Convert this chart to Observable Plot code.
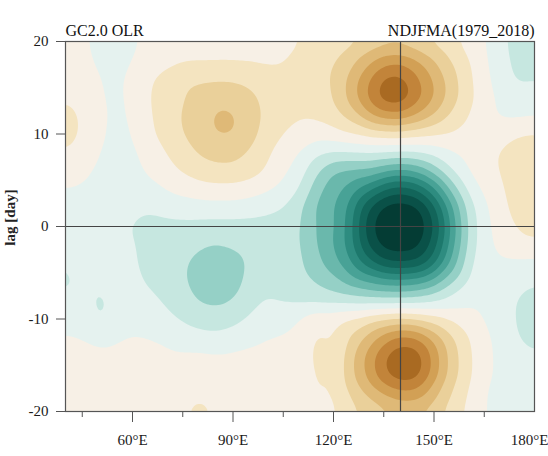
<!DOCTYPE html>
<html><head><meta charset="utf-8">
<script src="https://cdn.jsdelivr.net/npm/d3@7"></script>
<script src="https://cdn.jsdelivr.net/npm/@observablehq/plot@0.6"></script>
<style>html,body{margin:0;padding:0;background:#fff;} svg{display:block;}</style>
</head><body><div id="chart"></div>
<script>
// Longitudes (°E) of the sampled columns and lags (days) of the sampled rows
const lons = [40,45,50,55,60,65,70,75,80,85,90,95,100,105,110,115,120,125,130,135,140,145,150,155,160,165,170,175,180];
const lags = [20,18,16,14,12,10,8,6,4,2,0,-2,-4,-6,-8,-10,-12,-14,-16,-18,-20];

// OLR lag-regression values (W m-2), one row per lag
const lag20  = [0.3,0.2,-0.3,-0.4,-0.2,0.3,0.5,0.6,0.6,0.6,0.6,0.6,0.6,0.7,1.0,1.2,1.3,1.6,2.0,2.4,2.5,2.2,1.7,1.2,0.7,0.1,-0.8,-1.4,-1.3];
const lag18  = [0.4,0.3,-0.2,-0.3,0.0,0.4,0.7,0.9,0.9,0.9,0.9,0.9,0.8,0.9,1.3,1.5,1.9,2.6,3.6,4.5,4.7,4.0,3.0,2.0,1.1,0.2,-0.7,-1.3,-1.2];
const lag16  = [0.6,0.5,0.0,-0.2,0.2,0.9,1.3,1.7,1.8,1.9,1.9,1.7,1.5,1.3,1.4,1.6,2.1,3.3,4.8,6.3,6.4,5.2,3.9,2.5,1.3,0.3,-0.5,-1.2,-1.1];
const lag14  = [0.9,0.7,0.1,-0.2,0.2,1.0,1.5,1.9,2.5,2.7,2.6,2.3,1.7,1.3,1.3,1.4,2.0,3.4,5.1,6.7,6.9,5.5,4.1,2.6,1.4,0.4,-0.2,-0.6,-0.5];
const lag12  = [1.4,0.9,0.2,-0.2,0.1,0.9,1.5,2.1,2.6,3.2,3.2,2.5,1.8,1.3,1.1,1.2,1.5,2.4,3.7,4.6,4.8,4.0,3.0,1.9,1.0,0.3,-0.1,-0.2,-0.1];
const lag10  = [1.4,0.9,0.2,-0.3,0.0,0.8,1.4,2.0,2.5,3.1,3.1,2.4,1.6,1.0,0.6,0.4,0.6,1.0,1.3,1.5,1.6,1.4,1.2,1.0,0.7,0.5,0.6,1.0,1.1];
const lag8   = [1.0,0.6,0.0,-0.4,-0.2,0.4,1.0,1.6,2.1,2.3,2.3,1.9,1.2,0.5,0.0,-0.9,-1.1,-1.0,-0.9,-1.0,-1.1,-1.0,-0.6,0.0,0.3,0.7,1.1,1.4,1.5];
const lag6   = [0.4,0.2,-0.2,-0.4,-0.3,0.1,0.6,1.1,1.6,1.8,1.8,1.5,0.9,0.2,-0.5,-1.8,-3.1,-3.2,-3.2,-3.9,-4.3,-3.8,-2.5,-1.0,0.0,0.6,1.1,1.5,1.7];
const lag4   = [0.0,-0.1,-0.3,-0.4,-0.4,-0.3,0.0,0.3,0.5,0.6,0.6,0.4,0.1,-0.3,-1.0,-2.6,-3.7,-4.4,-5.6,-7.1,-7.7,-7.1,-5.3,-2.7,-0.8,0.2,0.9,1.5,2.2];
const lag2   = [-0.4,-0.5,-0.6,-0.7,-0.8,-0.9,-0.6,-0.5,-0.4,-0.4,-0.4,-0.5,-0.7,-1.0,-1.8,-3.2,-3.9,-5.3,-7.9,-9.4,-9.7,-9.4,-7.5,-4.4,-1.7,-0.2,0.7,1.4,2.2];
const lag0   = [-0.7,-0.7,-0.8,-0.9,-1.0,-1.3,-1.3,-1.3,-1.4,-1.4,-1.4,-1.4,-1.4,-1.5,-1.9,-3.1,-3.8,-5.5,-8.5,-9.9,-10.5,-9.9,-8.2,-5.0,-1.9,-0.3,0.5,1.1,1.5];
const lagm2  = [-0.8,-0.7,-0.8,-0.8,-0.9,-1.3,-1.4,-1.6,-1.8,-2.0,-1.8,-1.6,-1.5,-1.5,-1.9,-3.0,-4.0,-5.5,-8.0,-9.5,-9.7,-9.4,-7.6,-4.6,-1.8,-0.3,0.3,0.6,0.7];
const lagm4  = [-1.0,-0.8,-0.8,-0.8,-0.9,-1.2,-1.5,-1.8,-2.5,-2.8,-2.5,-1.8,-1.5,-1.4,-1.8,-2.7,-3.6,-4.8,-6.5,-7.8,-8.0,-7.8,-6.4,-3.8,-1.4,-0.2,-0.1,-0.2,-0.3];
const lagm6  = [-1.2,-0.8,-0.9,-0.8,-0.8,-1.1,-1.3,-1.8,-2.6,-2.9,-2.5,-1.6,-1.2,-1.3,-1.6,-2.0,-2.6,-3.4,-4.0,-4.5,-4.6,-4.4,-3.6,-2.2,-0.9,-0.2,-0.3,-0.6,-0.9];
const lagm8  = [-0.8,-0.7,-1.2,-0.8,-0.6,-0.8,-1.1,-1.5,-2.1,-2.3,-2.0,-1.3,-0.9,-1.1,-1.3,-1.3,-1.3,-1.4,-1.5,-1.6,-1.6,-1.5,-1.2,-0.6,-0.2,-0.2,-0.4,-1.1,-1.6];
const lagm10 = [-0.4,-0.5,-1.2,-0.6,-0.4,-0.5,-0.8,-1.1,-1.4,-1.5,-1.3,-0.9,-0.5,-0.5,0.0,0.8,0.6,1.1,1.5,1.9,2.2,2.0,1.6,1.0,0.4,-0.1,-0.3,-1.1,-2.1];
const lagm12 = [0.1,0.0,-0.3,-0.1,0.1,0.0,-0.2,-0.5,-0.7,-0.8,-0.6,-0.3,0.0,0.1,0.4,1.2,0.85,2.1,3.3,4.5,5.4,5.1,3.7,2.2,1.1,0.1,-0.2,-0.9,-1.5];
const lagm14 = [0.3,0.3,0.2,0.2,0.3,0.3,0.2,0.1,0.2,0.1,0.2,0.3,0.3,0.3,0.5,1.3,0.85,2.7,4.3,6.0,7.0,6.7,4.7,2.6,1.3,0.2,-0.2,-0.5,-0.8];
const lagm16 = [0.4,0.4,0.3,0.3,0.4,0.4,0.4,0.5,0.6,0.5,0.4,0.4,0.4,0.4,0.5,1.2,0.85,2.7,4.2,5.9,6.8,6.6,4.6,2.6,1.3,0.2,-0.2,-0.4,-0.5];
const lagm18 = [0.4,0.4,0.4,0.4,0.4,0.4,0.5,0.7,0.9,0.7,0.5,0.4,0.4,0.4,0.4,1.1,0.85,2.1,3.1,4.1,4.8,4.7,3.4,2.0,1.0,0.0,-0.3,-0.5,-0.5];
const lagm20 = [0.4,0.4,0.4,0.4,0.4,0.5,0.6,0.9,1.3,0.9,0.5,0.4,0.4,0.4,0.3,0.8,0.8,1.6,2.2,2.7,3.0,2.9,2.4,1.5,0.8,0.0,-0.3,-0.6,-0.6];
const rows = [lag20,lag18,lag16,lag14,lag12,lag10,lag8,lag6,lag4,lag2,lag0,lagm2,lagm4,lagm6,lagm8,lagm10,lagm12,lagm14,lagm16,lagm18,lagm20];

// Contour levels and shading
const levels = [-20,-9,-8,-7,-6,-5,-4,-3,-2,-1,0,1,2,3,4,5,6];
const shades = ["#043c34","#0a5148","#12655a","#1d786c","#2e8c80","#48a296","#6ab8ac","#95d0c6","#c6e7e0","#e5f2ef",
                "#f7f0e6","#f4e4c0","#ead09a","#dfb977","#d2a055","#c2843a","#a96a22"];

// Axes text
const xTicks = [60,90,120,150];
const xLast = [180];
const xMinor = [45,75,105,135,165];
const yTicks = [-20,-10,0,10,20];
const titleLeft = "GC2.0 OLR";
const titleRight = "NDJFMA(1979_2018)";
const yTitle = "lag [day]";
const refLon = [140];
const refLag = [0];

const points = [];
rows.forEach((row, i) => row.forEach((v, j) => points.push({lon: lons[j], lag: lags[i], v})));

const lonFmt = d => d + "°E";
const chart = Plot.plot({
  width: 548, height: 456,
  marginLeft: 65, marginRight: 14, marginTop: 41, marginBottom: 45,
  style: {fontFamily: "'Liberation Serif', 'Times New Roman', serif", fontSize: "15px", color: "#1a1a1a", background: "#fff"},
  x: {domain: [40, 180], label: null},
  y: {domain: [-20, 20], label: null},
  color: {type: "threshold", domain: levels.slice(1), range: shades},
  marks: [
    Plot.contour(points, {x: "lon", y: "lag", fill: "v", thresholds: levels, interpolate: "barycentric", pixelSize: 2, blur: 3, stroke: "none"}),
    Plot.ruleX(refLon, {stroke: "#444", strokeWidth: 1.2}),
    Plot.ruleY(refLag, {stroke: "#444", strokeWidth: 1.2}),
    Plot.frame({stroke: "#555", strokeWidth: 1.2}),
    Plot.axisX(xTicks, {tickSize: 11, tickPadding: 12, tickFormat: lonFmt, label: null, stroke: "#555"}),
    Plot.axisX(xLast, {tickSize: 11, tickPadding: 12, tickFormat: lonFmt, label: null, stroke: "#555", textAnchor: "end", dx: 14}),
    Plot.axisX(xMinor, {tickSize: 6, text: null, label: null, stroke: "#555"}),
    Plot.axisY(yTicks, {tickSize: 9, tickPadding: 8, tickFormat: d => String(d), label: null, stroke: "#555"}),
    Plot.text([yTitle], {frameAnchor: "left", textAnchor: "middle", dx: -55, dy: -9, rotate: -90, fontSize: 15, fontWeight: "bold", fill: "#222"}),
    Plot.text([titleLeft], {frameAnchor: "top-left", textAnchor: "start", lineAnchor: "bottom", dy: -6, fontSize: 16, fill: "#111"}),
    Plot.text([titleRight], {frameAnchor: "top-right", textAnchor: "end", lineAnchor: "bottom", dy: -6, fontSize: 16, fill: "#111"})
  ]
});
document.getElementById("chart").appendChild(chart);
</script>
</body></html>
